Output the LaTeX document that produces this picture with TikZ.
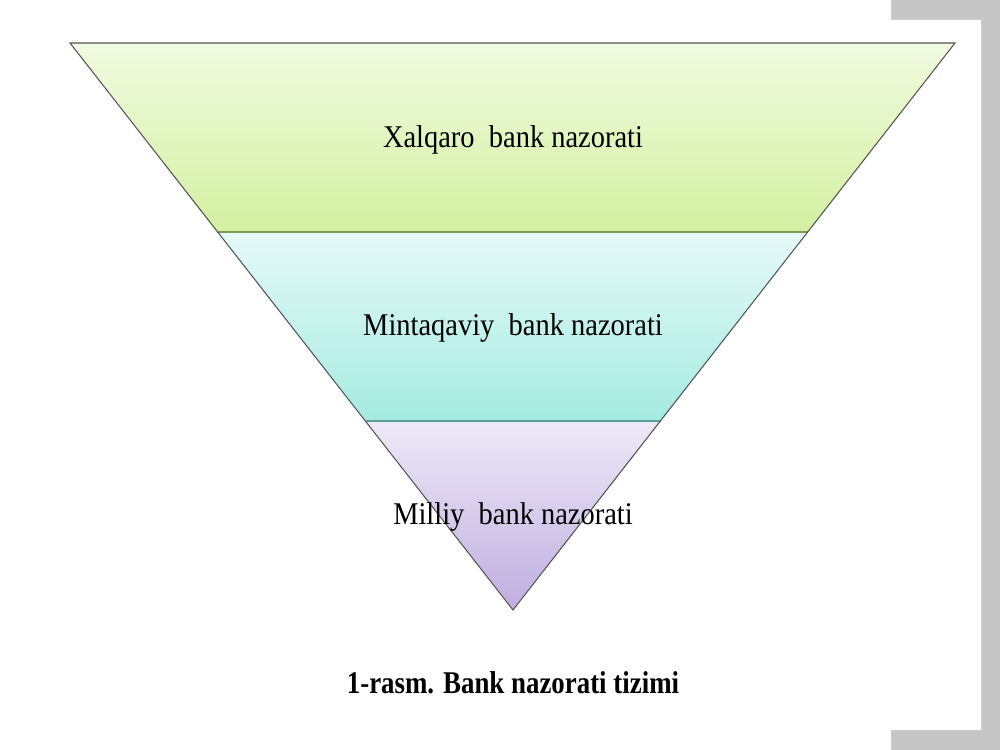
\documentclass[tikz,border=0pt]{standalone}
\usepackage{fontspec}
\setmainfont{Liberation Serif}
\usetikzlibrary{positioning}
\definecolor{slidegray}{HTML}{C6C6C6}
\definecolor{greentop}{HTML}{F0FBE0}
\definecolor{greenbot}{HTML}{D3F0A0}
\definecolor{cyantop}{HTML}{E6F9F9}
\definecolor{cyanbot}{HTML}{A4EBDF}
\definecolor{lilactop}{HTML}{EEE9F7}
\definecolor{lilacbot}{HTML}{BFAEE0}
\definecolor{greenline}{HTML}{7C9A5E}
\definecolor{tealline}{HTML}{5C9E9A}
\definecolor{rimgray}{HTML}{555555}

\begin{document}
\begin{tikzpicture}[x=0.02cm, y=-0.02cm,
    bandlabel/.style={font=\fontsize{18}{22}\selectfont, xscale=0.9},
    captiontext/.style={font=\fontsize{18}{22}\selectfont\bfseries, xscale=0.85}]
      \useasboundingbox (0, 0) rectangle (1000, 750);
      % slide background
      \fill [slidegray] (0, 0) rectangle (1000, 750);
      \fill [white] (0, 0) rectangle (891, 750)
                    (891, 20) rectangle (981, 730);
      \coordinate (tl) at (70, 43);
      \coordinate (tr) at (955, 43);
      \coordinate (ml) at (217, 232);
      \coordinate (mr) at (808, 232);
      \coordinate (bl) at (366, 421);
      \coordinate (br) at (661, 421);
      \coordinate (apex) at (513, 610);
      \shade [top color=greentop, bottom color=greenbot] (tl) -- (tr) -- (mr) -- (ml) -- cycle;
      \shade [top color=cyantop, bottom color=cyanbot] (ml) -- (mr) -- (br) -- (bl) -- cycle;
      \shade [top color=lilactop, bottom color=lilacbot] (bl) -- (br) -- (apex) -- cycle;
      \draw [greenline, line width=0.8pt] (ml) -- (mr);
      \draw [tealline, line width=0.8pt] (bl) -- (br);
      \draw [rimgray, line width=0.6pt] (tl) -- (tr) -- (apex) -- cycle;
      \draw (513, 140) node (xalqaro) [bandlabel] {Xalqaro\ \ bank nazorati}
            (513, 328) node (mintaqaviy) [bandlabel] {Mintaqaviy\ \ bank nazorati}
            (513, 517) node (milliy) [bandlabel] {Milliy\ \ bank nazorati};
      \node (caption) [captiontext] at (513, 683) {1-rasm. Bank nazorati tizimi};
\end{tikzpicture}
\end{document}
